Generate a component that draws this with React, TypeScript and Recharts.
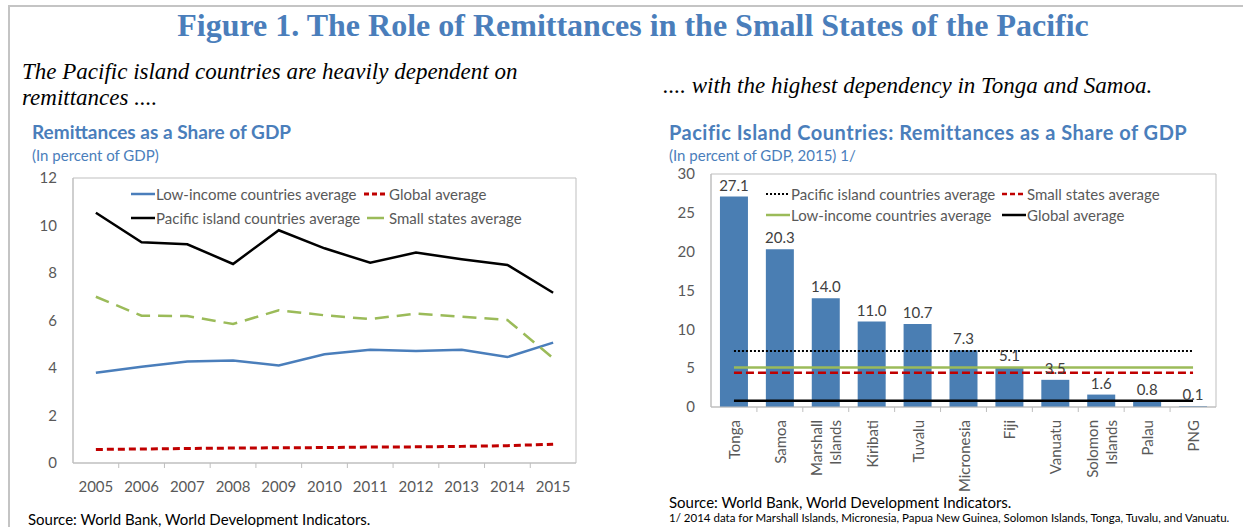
import { LineChart, Line, XAxis, YAxis, Legend, CartesianGrid, ComposedChart, Bar, LabelList } from 'recharts';

// left panel: remittances as a share of GDP, 2005-2015
const years = ['2005', '2006', '2007', '2008', '2009', '2010', '2011', '2012', '2013', '2014', '2015'];
const lowIncomeAvg = [3.8, 4.05, 4.27, 4.32, 4.11, 4.58, 4.77, 4.72, 4.77, 4.46, 5.07];
const globalAvg = [0.57, 0.59, 0.61, 0.63, 0.64, 0.65, 0.67, 0.68, 0.7, 0.73, 0.79];
const pacificAvg = [10.54, 9.29, 9.21, 8.38, 9.8, 9.04, 8.43, 8.86, 8.58, 8.34, 7.17];
const smallStatesAvg = [7.0, 6.2, 6.19, 5.85, 6.43, 6.22, 6.06, 6.29, 6.16, 6.02, 4.41];
const leftTicks = [0, 2, 4, 6, 8, 10, 12];

// right panel: Pacific island countries, 2015
const countries = ['Tonga', 'Samoa', 'Marshall Islands', 'Kiribati', 'Tuvalu', 'Micronesia', 'Fiji', 'Vanuatu', 'Solomon Islands', 'Palau', 'PNG'];
const remittances2015 = [27.1, 20.3, 14.0, 11.0, 10.7, 7.3, 5.1, 3.5, 1.6, 0.8, 0.1];
const pacific2015 = 7.2;
const smallStates2015 = 4.4;
const lowIncome2015 = 5.1;
const global2015 = 0.8;
const rightTicks = [0, 5, 10, 15, 20, 25, 30];

const lineData = years.map((year, i) => ({
  year,
  low: lowIncomeAvg[i],
  global: globalAvg[i],
  pacific: pacificAvg[i],
  small: smallStatesAvg[i],
}));

const barData = countries.map((name, i) => ({
  name,
  value: remittances2015[i],
  pacific: pacific2015,
  small: smallStates2015,
  low: lowIncome2015,
  global: global2015,
}));

const BLUE = '#4a7ebb';
const BAR = '#4a7eb3';
const RED = '#c00000';
const GREEN = '#9bbb59';
const AXIS = '#bfbfbf';
const TICK = '#595959';
const SANS = 'Lato, "Open Sans", sans-serif';
const SERIF = '"Liberation Serif", "Times New Roman", serif';
const FS = 15;

function boxH({ offset }: any) {
  return [offset.top, offset.top + offset.height];
}
function boxV({ offset }: any) {
  return [offset.left, offset.left + offset.width];
}

// legend laid out as a 2-column grid, in the order given by `order`
function LegendGrid({ payload, colWidth, rowHeight, styles, order }: any) {
  const items = order
    .map((k: string) => (payload || []).find((e: any) => e.dataKey === k))
    .filter(Boolean);
  return (
    <div style={{ display: 'grid', gridTemplateColumns: `${colWidth}px auto`, fontFamily: SANS, fontSize: FS, color: TICK }}>
      {items.map((entry: any) => {
        const s = styles[entry.dataKey] || {};
        return (
          <div key={entry.dataKey} style={{ display: 'flex', alignItems: 'center', height: rowHeight, whiteSpace: 'nowrap' }}>
            <svg width={24} height={10} style={{ marginRight: 1 }}>
              <line x1={0} x2={24} y1={5} y2={5} stroke={entry.color} strokeWidth={s.w || 2.5} strokeDasharray={s.dash} />
            </svg>
            <span>{entry.value}</span>
          </div>
        );
      })}
    </div>
  );
}

const leftStyles: Record<string, any> = {
  low: { w: 2.5 },
  global: { w: 3, dash: '5 3' },
  pacific: { w: 2.5 },
  small: { w: 2.5, dash: '0 3 17 10' },
};
const rightStyles: Record<string, any> = {
  pacific: { w: 2, dash: '2 2' },
  small: { w: 2.5, dash: '5 3' },
  low: { w: 2.5 },
  global: { w: 2.5 },
};

function YearTick({ x, y, payload, index }: any) {
  const half = payload.offset || 0;
  const axisY = y - 23;
  return (
    <g>
      <text x={x} y={y} textAnchor="middle" dominantBaseline="central" fill={TICK} fontSize={FS} fontFamily={SANS}>
        {payload.value}
      </text>
      {index < years.length - 1 && (
        <line x1={x + half} x2={x + half} y1={axisY} y2={axisY + 5} stroke={AXIS} />
      )}
    </g>
  );
}

function CountryTick({ x, y, payload, index }: any) {
  const half = payload.offset || 0;
  const axisY = y - 11;
  const parts = String(payload.value).split(' ');
  return (
    <g>
      {index < countries.length - 1 && (
        <line x1={x + half} x2={x + half} y1={axisY} y2={axisY + 5} stroke={AXIS} />
      )}
      <g transform={`translate(${x},${y + 2}) rotate(-90)`}>
        {parts.map((p, i) => (
          <text key={p} x={0} y={(i - (parts.length - 1) / 2) * 19} textAnchor="end" dominantBaseline="central" fill={TICK} fontSize={FS} fontFamily={SANS}>
            {p}
          </text>
        ))}
      </g>
    </g>
  );
}

const txt = (extra: any) => ({ position: 'absolute' as const, whiteSpace: 'nowrap' as const, margin: 0, ...extra });

export default function App() {
  return (
    <div style={{ position: 'absolute', left: 0, top: 0, width: 1243, height: 527, background: '#fff', overflow: 'hidden' }}>
      {/* frame */}
      <div style={{ position: 'absolute', left: 8, top: 5, width: 1235, height: 2, background: '#c4c4c4' }} />
      <div style={{ position: 'absolute', left: 8, top: 5, width: 2, height: 522, background: '#c4c4c4' }} />

      <div style={txt({ left: 0, width: 1266, top: 6, textAlign: 'center', fontFamily: SERIF, fontWeight: 'bold', fontSize: 32, color: BLUE, lineHeight: '38px' })}>
        Figure 1. The Role of Remittances in the Small States of the Pacific
      </div>

      <div style={txt({ left: 22, top: 59, fontFamily: SERIF, fontStyle: 'italic', fontSize: 23, lineHeight: '26px', color: '#000' })}>
        The Pacific island countries are heavily dependent on
        <br />
        remittances ....
      </div>
      <div style={txt({ left: 663, top: 73, fontFamily: SERIF, fontStyle: 'italic', fontSize: 23, lineHeight: '26px', color: '#000' })}>
        .... with the highest dependency in Tonga and Samoa.
      </div>

      <div style={txt({ left: 32, top: 120, fontFamily: SANS, fontWeight: 'bold', fontSize: 19, color: BLUE, lineHeight: '24px' })}>
        Remittances as a Share of GDP
      </div>
      <div style={txt({ left: 32, top: 146, fontFamily: SANS, fontSize: 15, color: BLUE, lineHeight: '18px' })}>
        (In percent of GDP)
      </div>
      <div style={txt({ left: 669, top: 120, fontFamily: SANS, fontWeight: 'bold', fontSize: 20, letterSpacing: 0.5, color: BLUE, lineHeight: '24px' })}>
        Pacific Island Countries: Remittances as a Share of GDP
      </div>
      <div style={txt({ left: 669, top: 146, fontFamily: SANS, fontSize: 15, color: BLUE, lineHeight: '18px' })}>
        (In percent of GDP, 2015) 1/
      </div>

      <div style={{ position: 'absolute', left: 20, top: 165 }}>
        <LineChart width={560} height={338} data={lineData} margin={{ top: 13, right: 4, bottom: 0, left: 13 }}>
          <CartesianGrid stroke={AXIS} horizontalCoordinatesGenerator={boxH} verticalCoordinatesGenerator={boxV} />
          <XAxis dataKey="year" scale="band" height={40} axisLine={{ stroke: AXIS }} tickLine={false} tickSize={0} tickMargin={23} tick={<YearTick />} interval={0} />
          <YAxis domain={[0, 12]} ticks={leftTicks} width={40} axisLine={{ stroke: AXIS }} tickLine={false} tickSize={0} tickMargin={16} tick={{ fill: TICK, fontSize: FS, fontFamily: SANS }} />
          <Legend
            layout="horizontal"
            verticalAlign="middle"
            align="center"
            wrapperStyle={{ left: 111, top: 17, width: 420 }}
            content={(p: any) => (
              <LegendGrid payload={p.payload} colWidth={233} rowHeight={24} styles={leftStyles} order={['low', 'global', 'pacific', 'small']} />
            )}
          />
          <Line dataKey="low" name="Low-income countries average" stroke={BLUE} strokeWidth={2.5} dot={false} isAnimationActive={false} />
          <Line dataKey="global" name="Global average" stroke={RED} strokeWidth={3} strokeDasharray="7 4" dot={false} isAnimationActive={false} />
          <Line dataKey="pacific" name="Pacific island countries average" stroke="#000" strokeWidth={2.5} dot={false} isAnimationActive={false} />
          <Line dataKey="small" name="Small states average" stroke={GREEN} strokeWidth={2.5} strokeDasharray="14 8" dot={false} isAnimationActive={false} />
        </LineChart>
      </div>

      <div style={{ position: 'absolute', left: 660, top: 160 }}>
        <ComposedChart width={560} height={337} data={barData} margin={{ top: 14, right: 4, bottom: 0, left: 11 }} barCategoryGap="19.5%">
          <CartesianGrid stroke={AXIS} horizontalCoordinatesGenerator={boxH} verticalCoordinatesGenerator={boxV} />
          <XAxis dataKey="name" height={90} axisLine={{ stroke: AXIS }} tickLine={false} tickSize={0} tickMargin={11} tick={<CountryTick />} interval={0} />
          <YAxis domain={[0, 30]} ticks={rightTicks} width={40} axisLine={{ stroke: AXIS }} tickLine={false} tickSize={0} tickMargin={16} tick={{ fill: TICK, fontSize: FS, fontFamily: SANS }} />
          <Legend
            layout="horizontal"
            verticalAlign="middle"
            align="center"
            wrapperStyle={{ left: 106, top: 23, width: 420 }}
            content={(p: any) => (
              <LegendGrid payload={p.payload} colWidth={236} rowHeight={21} styles={rightStyles} order={['pacific', 'small', 'low', 'global']} />
            )}
          />
          <Bar dataKey="value" fill={BAR} legendType="none" isAnimationActive={false}>
            <LabelList dataKey="value" position="top" offset={6} formatter={(v: any) => Number(v).toFixed(1)} fill="#404040" fontSize={FS} fontFamily={SANS} />
          </Bar>
          <Line dataKey="pacific" name="Pacific island countries average" stroke="#000" strokeWidth={2} strokeDasharray="2 2" dot={false} isAnimationActive={false} />
          <Line dataKey="small" name="Small states average" stroke={RED} strokeWidth={2.5} strokeDasharray="8 4" dot={false} isAnimationActive={false} />
          <Line dataKey="low" name="Low-income countries average" stroke={GREEN} strokeWidth={2.5} dot={false} isAnimationActive={false} />
          <Line dataKey="global" name="Global average" stroke="#000" strokeWidth={2.5} dot={false} isAnimationActive={false} />
        </ComposedChart>
      </div>

      <div style={txt({ left: 28, top: 510, fontFamily: SANS, fontSize: 15, color: '#000', lineHeight: '18px' })}>
        Source: World Bank, World Development Indicators.
      </div>
      <div style={txt({ left: 669, top: 493, fontFamily: SANS, fontSize: 15, color: '#000', lineHeight: '18px' })}>
        Source: World Bank, World Development Indicators.
      </div>
      <div style={txt({ left: 669, top: 511, fontFamily: SANS, fontSize: 11.5, color: '#000', lineHeight: '14px' })}>
        1/ 2014 data for Marshall Islands, Micronesia, Papua New Guinea, Solomon Islands, Tonga, Tuvalu, and Vanuatu.
      </div>
    </div>
  );
}
